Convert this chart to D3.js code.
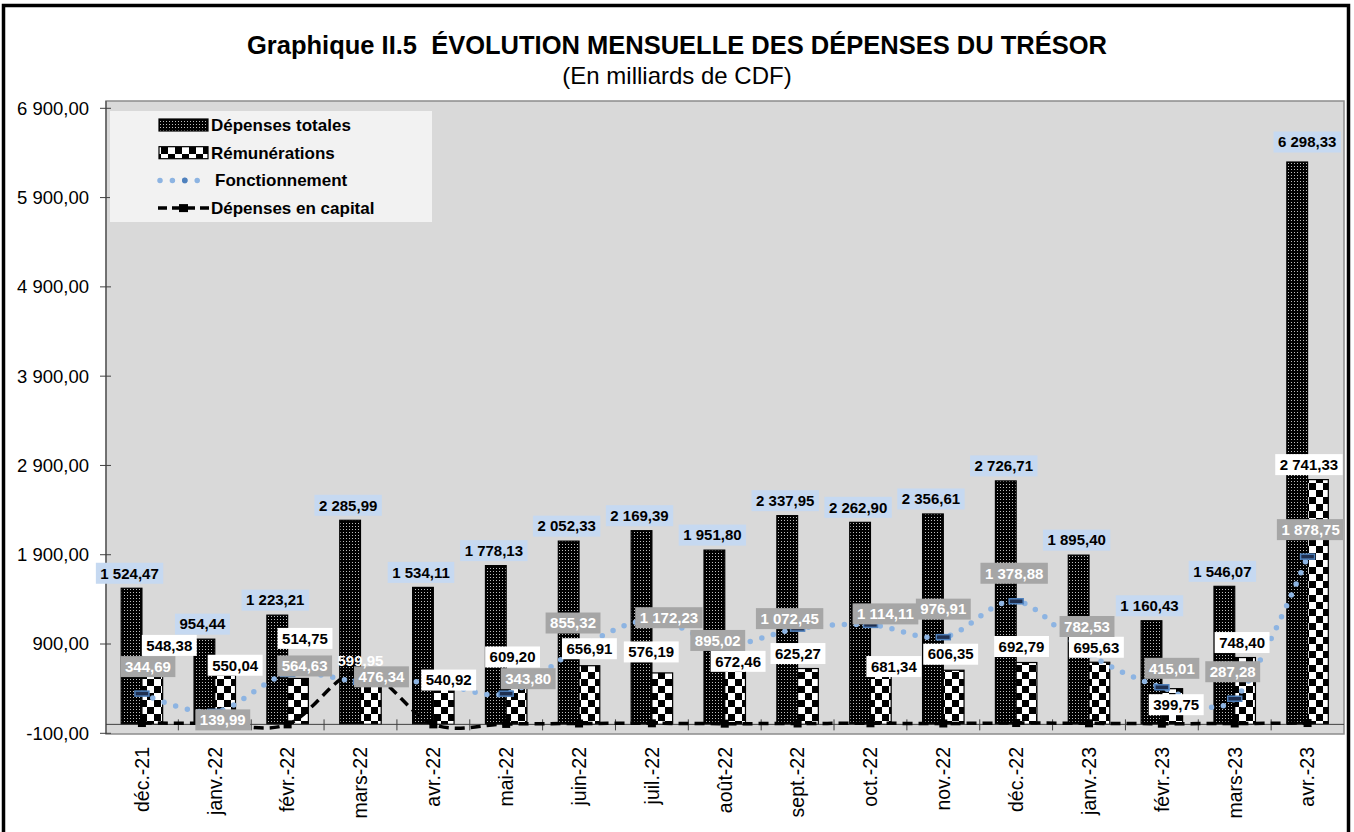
<!DOCTYPE html>
<html>
<head>
<meta charset="utf-8">
<script src="https://cdn.jsdelivr.net/npm/d3@7"></script>
<style>
  body { margin: 0; background: #fff; }
  svg { display: block; font-family: "Liberation Sans", Arial, sans-serif; }
  .tick-label { font-size: 18.5px; fill: #000; }
  .x-label { font-size: 19.5px; fill: #000; }
  .lbl { font-size: 15px; font-weight: bold; }
  .legend-label { font-size: 17px; font-weight: bold; }
  .title { white-space: pre; }
</style>
</head>
<body>
<svg id="chart" width="1354" height="832"></svg>
<script>
// months on the category axis
const months = ['déc.-21', 'janv.-22', 'févr.-22', 'mars-22', 'avr.-22', 'mai-22', 'juin-22',
  'juil.-22', 'août-22', 'sept.-22', 'oct.-22', 'nov.-22', 'déc.-22', 'janv.-23', 'févr.-23',
  'mars-23', 'avr.-23'];

// series (milliards de CDF)
const totales = [1524.47, 954.44, 1223.21, 2285.99, 1534.11, 1778.13, 2052.33, 2169.39, 1951.80,
  2337.95, 2262.90, 2356.61, 2726.71, 1895.40, 1160.43, 1546.07, 6298.33];
const remunerations = [548.38, 550.04, 514.75, 470, 540.92, 609.20, 656.91, 576.19, 672.46,
  625.27, 681.34, 606.35, 692.79, 695.63, 399.75, 748.40, 2741.33];
const fonctionnement = [344.69, 139.99, 564.63, 476.34, 470, 343.80, 855.32, 1172.23, 895.02,
  1072.45, 1114.11, 976.91, 1378.88, 782.53, 415.01, 287.28, 1878.75];
const capital = [15, 10, 0, 599.95, 0, 5, 10, 12, 8, 10, 12, 10, 15, 12, 8, 10, 15];

// which values carry a data label in the original
const remLabelShown = months.map((m, i) => i !== 3);
const fonctLabelShown = months.map((m, i) => i !== 4);
const capLabelShown = months.map((m, i) => i === 3);

const yTicks = d3.range(-100, 6901, 1000);

// label nudges (px) relative to the data point, as placed in the original
const totNudge = months.map((m, i) => i === 16 ? [10, -20] : [-2, -15]);
const remNudge = [[17, -30], [10, -10], [7, -40], [0, -12], [5, 4], [-4, -13], [0, -17], [-11, -21],
  [3, -3], [-10, -15], [13, 3], [-3, -16], [-5, -16], [-3, -15], [4, 16], [-3, -15], [-9, -15]];
const fonctNudge = [[6, -27], [8, 8], [17, -8], [21, -5], [0, -25], [22, -15], [-6, -25], [17, -2],
  [-7, -4], [-8, -10], [15, -11], [0, -28], [-2, -28], [-2, -28], [10, -19], [-2, -27], [3, -27]];

const fr = d3.formatLocale({decimal: ',', thousands: '\u00a0', grouping: [3], currency: ['', ''], minus: '-'});
const fmt = v => fr.format(',.2f')(v).replace(/\u00a0/g, ' ');

const svg = d3.select('#chart');
const plot = {left: 106, right: 1344, top: 101, bottom: 734};

const x = d3.scaleBand().domain(months).range([105.5, 1344]).padding(0);
const xs = d3.scaleBand().domain(['tot', 'rem']).range([0, x.bandwidth()]).paddingInner(0).paddingOuter(0.757);
const y = d3.scaleLinear().domain([-100, 6900]).range([733.3, 108.3]);
const cx = m => x(m) + x.bandwidth() / 2;

// patterns
const defs = svg.append('defs');
const pTot = defs.append('pattern').attr('id', 'pat-tot')
  .attr('patternUnits', 'userSpaceOnUse').attr('width', 3).attr('height', 3);
pTot.append('rect').attr('width', 3).attr('height', 3).attr('fill', '#000');
pTot.append('rect').attr('x', 1).attr('y', 1).attr('width', 1).attr('height', 1).attr('fill', '#bdbdbd');

const pRem = defs.append('pattern').attr('id', 'pat-rem')
  .attr('patternUnits', 'userSpaceOnUse').attr('width', 14).attr('height', 14);
pRem.append('rect').attr('width', 14).attr('height', 14).attr('fill', '#fff');
pRem.append('rect').attr('width', 7).attr('height', 7).attr('fill', '#000');
pRem.append('rect').attr('x', 7).attr('y', 7).attr('width', 7).attr('height', 7).attr('fill', '#000');

// outer frame
svg.append('rect').attr('x', 3.5).attr('y', 5.5).attr('width', 1345).attr('height', 840)
  .attr('fill', 'none').attr('stroke', '#000').attr('stroke-width', 3.5);

// title
svg.append('text').attr('class', 'title').attr('x', 677).attr('y', 54).attr('text-anchor', 'middle')
  .style('font-size', '25.5px').style('font-weight', 'bold')
  .text('Graphique II.5  ÉVOLUTION MENSUELLE DES DÉPENSES DU TRÉSOR');
svg.append('text').attr('x', 677).attr('y', 84).attr('text-anchor', 'middle')
  .style('font-size', '24px')
  .text('(En milliards de CDF)');

// plot area
svg.append('rect').attr('x', plot.left).attr('y', plot.top)
  .attr('width', plot.right - plot.left).attr('height', plot.bottom - plot.top)
  .attr('fill', '#d9d9d9').attr('stroke', '#8c8c8c').attr('stroke-width', 1.5);

// y axis
const yAxis = svg.append('g');
yAxis.append('line').attr('x1', plot.left).attr('x2', plot.left)
  .attr('y1', plot.top).attr('y2', plot.bottom).attr('stroke', '#404040');
yAxis.selectAll('.yt').data(yTicks).enter().append('line')
  .attr('x1', plot.left - 6).attr('x2', plot.left + 5)
  .attr('y1', d => y(d)).attr('y2', d => y(d)).attr('stroke', '#404040');
yAxis.selectAll('.tick-label').data(yTicks).enter().append('text')
  .attr('class', 'tick-label')
  .attr('x', 89).attr('y', d => y(d)).attr('dy', '0.35em')
  .attr('text-anchor', 'end')
  .text(d => fmt(d));

// bars
const bars = svg.append('g');
bars.selectAll('.bar-tot').data(months).enter().append('rect')
  .attr('x', m => x(m) + xs('tot')).attr('width', xs.bandwidth())
  .attr('y', (m, i) => y(totales[i])).attr('height', (m, i) => y(0) - y(totales[i]))
  .attr('fill', 'url(#pat-tot)').attr('stroke', '#000').attr('stroke-width', 1.2);
bars.selectAll('.bar-rem').data(months).enter().append('rect')
  .attr('x', m => x(m) + xs('rem')).attr('width', xs.bandwidth())
  .attr('y', (m, i) => y(remunerations[i])).attr('height', (m, i) => y(0) - y(remunerations[i]))
  .attr('fill', 'url(#pat-rem)').attr('stroke', '#000').attr('stroke-width', 1.2);

// category axis at zero
const xAxis = svg.append('g');
xAxis.append('line').attr('x1', plot.left).attr('x2', plot.right)
  .attr('y1', y(0)).attr('y2', y(0)).attr('stroke', '#404040');
xAxis.selectAll('.xt').data(months.slice(1)).enter().append('line')
  .attr('x1', m => x(m)).attr('x2', m => x(m))
  .attr('y1', y(0) - 5).attr('y2', y(0) + 6).attr('stroke', '#404040');
xAxis.selectAll('.x-label').data(months).enter().append('text')
  .attr('class', 'x-label')
  .attr('transform', m => `translate(${cx(m)}, 747) rotate(-90)`)
  .attr('dy', '0.35em').attr('text-anchor', 'end')
  .text(m => m);

// lines
const line = d3.line().curve(d3.curveCardinal.tension(0));
const fonctPts = months.map((m, i) => [cx(m), y(fonctionnement[i])]);
const capPts = months.map((m, i) => [cx(m), y(capital[i])]);

svg.append('path').attr('d', line(capPts))
  .attr('fill', 'none').attr('stroke', '#000').attr('stroke-width', 3.5)
  .attr('stroke-dasharray', '10 6');
svg.append('path').attr('d', line(fonctPts))
  .attr('fill', 'none').attr('stroke', '#8db4e2').attr('stroke-width', 5.5)
  .attr('stroke-linecap', 'round').attr('stroke-dasharray', '0 12');

svg.selectAll('.cap-mk').data(capPts).enter().append('rect')
  .attr('x', d => d[0] - 4).attr('y', d => d[1] - 4).attr('width', 8).attr('height', 8)
  .attr('fill', '#000');
svg.selectAll('.fonct-mk').data(fonctPts).enter().append('rect')
  .attr('x', d => d[0] - 7).attr('y', d => d[1] - 2.5).attr('width', 14).attr('height', 5)
  .attr('fill', '#1f2f4f').attr('stroke', '#4f81bd').attr('stroke-width', 1.5);

// data labels
function label(g, px, py, txt, fill, color) {
  const t = g.append('text').attr('class', 'lbl').attr('x', px).attr('y', py)
    .attr('dy', '0.35em').attr('text-anchor', 'middle').attr('fill', color).text(txt);
  if (fill) {
    const w = t.node().getComputedTextLength() + 9;
    g.insert('rect', () => t.node())
      .attr('x', px - w / 2).attr('y', py - 10.5).attr('width', w).attr('height', 21)
      .attr('fill', fill);
  }
}

const labels = svg.append('g');
months.forEach((m, i) => {
  const bx = x(m) + xs('tot') + xs.bandwidth() / 2;
  label(labels, bx + totNudge[i][0], y(totales[i]) + totNudge[i][1], fmt(totales[i]), '#c6d9f1', '#000');
});
months.forEach((m, i) => {
  if (!remLabelShown[i]) return;
  const bx = x(m) + xs('rem') + xs.bandwidth() / 2;
  label(labels, bx + remNudge[i][0], y(remunerations[i]) + remNudge[i][1], fmt(remunerations[i]), '#fff', '#000');
});
months.forEach((m, i) => {
  if (!fonctLabelShown[i]) return;
  label(labels, cx(m) + fonctNudge[i][0], y(fonctionnement[i]) + fonctNudge[i][1], fmt(fonctionnement[i]), '#a6a6a6', '#fff');
});
months.forEach((m, i) => {
  if (!capLabelShown[i]) return;
  label(labels, cx(m), y(capital[i]) - 10, fmt(capital[i]), null, '#fff');
});

// legend
const legend = svg.append('g');
legend.append('rect').attr('x', 110).attr('y', 111).attr('width', 322).attr('height', 111)
  .attr('fill', '#f2f2f2');
const rows = [
  {label: 'Dépenses totales', kind: 'tot'},
  {label: 'Rémunérations', kind: 'rem'},
  {label: 'Fonctionnement', kind: 'fonct'},
  {label: 'Dépenses en capital', kind: 'cap'},
];
rows.forEach((r, i) => {
  const ry = 125 + i * 27.7;
  const row = legend.append('g');
  if (r.kind === 'tot' || r.kind === 'rem') {
    row.append('rect').attr('x', 159).attr('y', ry - 6).attr('width', 49).attr('height', 12)
      .attr('fill', `url(#pat-${r.kind})`).attr('stroke', '#000').attr('stroke-width', 1.2);
  } else if (r.kind === 'fonct') {
    row.append('line').attr('x1', 160).attr('x2', 198).attr('y1', ry).attr('y2', ry)
      .attr('stroke', '#8db4e2').attr('stroke-width', 5.5).attr('stroke-linecap', 'round')
      .attr('stroke-dasharray', '0 12.4');
    row.append('circle').attr('cx', 184.8).attr('cy', ry).attr('r', 2.8).attr('fill', '#4f81bd');
  } else {
    row.append('line').attr('x1', 158).attr('x2', 209).attr('y1', ry).attr('y2', ry)
      .attr('stroke', '#000').attr('stroke-width', 3.5).attr('stroke-dasharray', '9 5');
    row.append('rect').attr('x', 179).attr('y', ry - 4).attr('width', 9).attr('height', 8).attr('fill', '#000');
  }
  row.append('text').attr('class', 'legend-label')
    .attr('x', r.kind === 'fonct' ? 215 : 211).attr('y', ry).attr('dy', '0.35em')
    .text(r.label);
});
</script>
</body>
</html>
